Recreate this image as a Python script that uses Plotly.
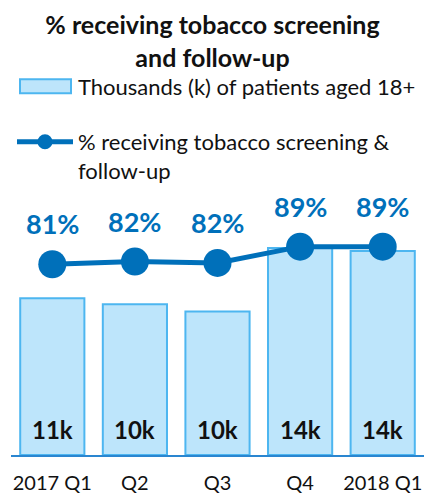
import plotly.graph_objects as go

# Quarterly data
quarters = ["2017 Q1", "Q2", "Q3", "Q4", "2018 Q1"]
patients_k = [10.6, 10.2, 9.7, 14.0, 13.8]        # thousands of patients aged 18+
pct_screened = [81.0, 82.2, 81.6, 89.0, 89.0]     # % receiving screening & follow-up

BAR_NAME = "Thousands (k) of patients aged 18+"
LINE_NAME = "% receiving tobacco screening &<br>follow-up"
TITLE = "<b>% receiving tobacco screening<br>and follow-up</b>"

# Canvas and plot-area geometry (pixels)
W, H = 425, 496
ML, MR, MT, MB = 11, 1, 200, 41
PW, PH = W - ML - MR, H - MT - MB


def fx(px):
    return (px - ML) / PW


def fy(py):
    return (H - MB - py) / PH


DARK = "#0070BA"
BAR_FILL = "#BDE5FB"
BAR_EDGE = "#4DB6F0"
AXIS = "#2A86D0"
FONT = "Lato"

fig = go.Figure()
fig.add_trace(go.Bar(
    x=quarters, y=patients_k, name=BAR_NAME,
    marker=dict(color=BAR_FILL, line=dict(color=BAR_EDGE, width=2)),
    yaxis="y", hoverinfo="skip",
))
fig.add_trace(go.Scatter(
    x=quarters, y=pct_screened, name=LINE_NAME, mode="lines+markers",
    line=dict(color=DARK, width=5), marker=dict(size=28, color=DARK),
    yaxis="y2", hoverinfo="skip",
))

annotations = []
# Value labels at the foot of each bar
for q, v in zip(quarters, patients_k):
    annotations.append(dict(
        x=q, y=0, xref="x", yref="y", yshift=26, showarrow=False,
        text=f"<b>{v:.0f}k</b>", font=dict(family=FONT, size=24, color="#111111"),
    ))
# Percentage labels above the line markers
for q, p in zip(quarters, pct_screened):
    annotations.append(dict(
        x=q, y=p, xref="x", yref="y2", yshift=40.5, showarrow=False,
        text=f"<b>{p:.0f}%</b>", font=dict(family=FONT, size=27, color=DARK),
    ))
# Legend text
annotations.append(dict(
    x=fx(76), y=fy(86), xref="paper", yref="paper", xanchor="left", yanchor="middle",
    showarrow=False, align="left", text=BAR_NAME,
    font=dict(family=FONT, size=22, color="#111111"),
))
annotations.append(dict(
    x=fx(76), y=fy(156), xref="paper", yref="paper", xanchor="left", yanchor="middle",
    showarrow=False, align="left", text=LINE_NAME,
    font=dict(family=FONT, size=22, color="#111111"),
))

# Legend swatches
shapes = [
    dict(type="rect", xref="paper", yref="paper",
         x0=fx(20), x1=fx(71), y0=fy(93.3), y1=fy(79.3),
         fillcolor=BAR_FILL, line=dict(color=BAR_EDGE, width=2)),
    dict(type="line", xref="paper", yref="paper",
         x0=fx(17), x1=fx(73), y0=fy(141.7), y1=fy(141.7),
         line=dict(color=DARK, width=5)),
    dict(type="circle", xref="paper", yref="paper",
         x0=fx(37.5), x1=fx(52.5), y0=fy(149.2), y1=fy(134.2),
         fillcolor=DARK, line=dict(color=DARK, width=0)),
]

fig.update_layout(
    width=W, height=H,
    margin=dict(l=ML, r=MR, t=MT, b=MB, pad=0),
    paper_bgcolor="white", plot_bgcolor="white",
    showlegend=False,
    bargap=0.223,
    title=dict(text=TITLE, x=0.5, xref="container", xanchor="center",
               y=1 - 34 / H, yref="container", yanchor="middle",
               font=dict(family=FONT, size=25, color="#111111")),
    xaxis=dict(showline=True, linecolor=AXIS, linewidth=2, showgrid=False,
               ticks="", ticklabelstandoff=9, automargin=False,
               tickfont=dict(family=FONT, size=20, color="#111111")),
    yaxis=dict(range=[0, 17.24], visible=False, showgrid=False, automargin=False),
    yaxis2=dict(range=[-5.7, 110.2], overlaying="y", visible=False, showgrid=False,
                automargin=False),
    annotations=annotations,
    shapes=shapes,
)

fig.write_html("out.html")
